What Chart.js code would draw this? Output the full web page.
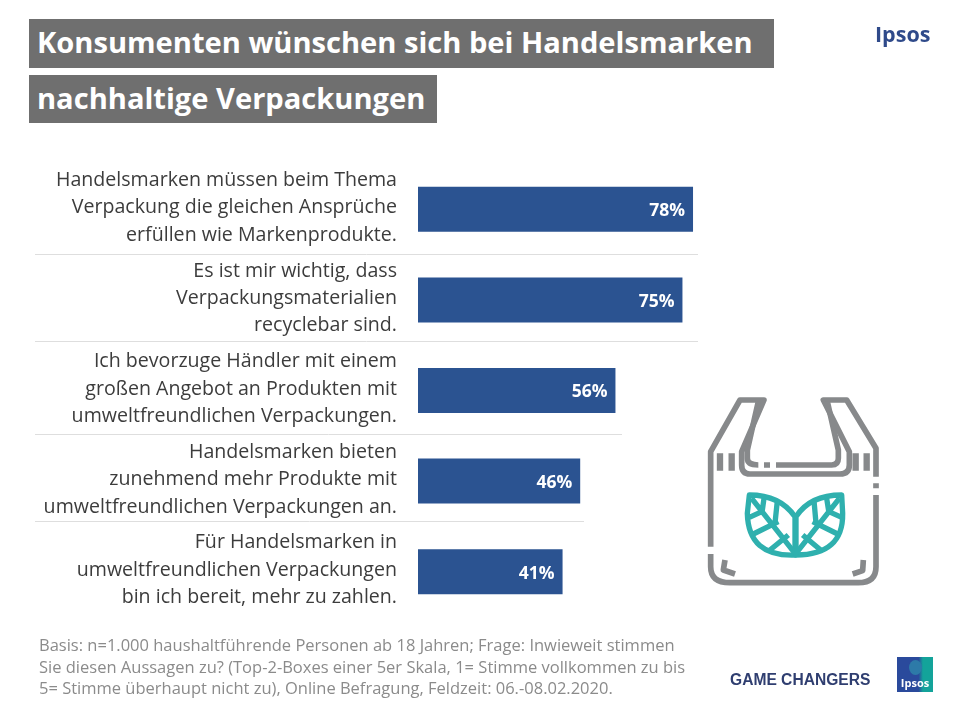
<!DOCTYPE html>
<html lang="de">
<head>
<meta charset="utf-8">
<title>Konsumenten wünschen sich bei Handelsmarken nachhaltige Verpackungen</title>
<script src="https://cdn.jsdelivr.net/npm/chart.js@4"></script>
<style>
  html, body { margin: 0; padding: 0; background: #fff; }
  #page { position: relative; width: 960px; height: 720px; overflow: hidden; font-family: "Open Sans", sans-serif; }
  #chart { position: absolute; left: 0; top: 0; }
  .title { position: absolute; left: 29px; background: #6f6f6f; color: #fff; font-weight: 700; font-size: 29.1px; line-height: 47px; padding-left: 8px; box-sizing: border-box; white-space: nowrap; }
  #note { position: absolute; left: 39px; top: 634px; font-size: 16.5px; line-height: 21.7px; color: #8b8b8b; white-space: nowrap; }
  #ipsos { position: absolute; left: 875px; top: 19px; font-size: 21.5px; font-weight: 700; color: #2f4a8a; }
  #game { position: absolute; left: 730px; top: 671px; font: bold 15.6px "Liberation Sans", sans-serif; color: #2f3e70; white-space: nowrap; }
  #logo { position: absolute; left: 897px; top: 657px; width: 36px; height: 35px; background: linear-gradient(90deg, #2a4a9c 60%, #13a39a 72%); color: #fff; font-size: 11px; font-weight: 700; text-align: center; line-height: 52px; }
  #drop { position: absolute; left: 12px; top: 3px; width: 13px; height: 15px; border-radius: 50%; background: #2d7aa8; }
  #logo span { position: relative; }
  #bag { position: absolute; left: 690px; top: 380px; }
</style>
</head>
<body>
<div id="page">
  <canvas id="chart" width="960" height="720"></canvas>
  <div class="title" style="top:19px;width:745px;height:49px">Konsumenten wünschen sich bei Handelsmarken</div>
  <div class="title" style="top:75px;width:408px;height:48px">nachhaltige Verpackungen</div>
  <div id="ipsos">Ipsos</div>
  <div id="note"></div>
  <div id="game">GAME CHANGERS</div>
  <div id="logo"><div id="drop"></div><span>Ipsos</span></div>
  <svg id="bag" width="200" height="220" viewBox="0 0 600 660" fill="none" stroke-linejoin="round">
    <g stroke="#87898b" stroke-width="17">
      <path d="M62 500V215L150 60H222L155 215V255Q155 282 180 282H450Q478 282 478 255V215L400 60H470L558 205V290"/>
      <path d="M558 310V325M558 345V560Q558 608 505 608H120Q62 608 62 560V522"/>
      <path d="M205 65L172 210V235Q172 255 205 255M222 255H240M258 255H425Q445 255 445 235V210L412 65"/>
      <path d="M90 220V272M125 220V272M497 220V272M530 220V272" stroke-width="19"/>
      <path d="M105 540L100 570L135 582M520 540L518 572L488 582"/>
    </g>
    <g stroke="#2fb0ae" stroke-width="16">
      <path d="M178 345Q270 345 315 410V525Q175 530 172 400Z"/>
      <path d="M455 345Q360 345 318 410V525Q460 525 458 400Z"/>
      <path d="M185 355L315 520M222 355L215 405M262 362L255 430M178 412L222 392M190 462L265 425M240 510L295 465"/>
      <path d="M448 355L318 520M410 355L418 405M372 362L378 430M455 412L410 392M443 462L368 425M392 510L338 465"/>
    </g>
  </svg>
</div>
<script>
const categories = [
  ['Handelsmarken müssen beim Thema', 'Verpackung die gleichen Ansprüche', 'erfüllen wie Markenprodukte.'],
  ['Es ist mir wichtig, dass', 'Verpackungsmaterialien', 'recyclebar sind.'],
  ['Ich bevorzuge Händler mit einem', 'großen Angebot an Produkten mit', 'umweltfreundlichen Verpackungen.'],
  ['Handelsmarken bieten', 'zunehmend mehr Produkte mit', 'umweltfreundlichen Verpackungen an.'],
  ['Für Handelsmarken in', 'umweltfreundlichen Verpackungen', 'bin ich bereit, mehr zu zahlen.']
];
const values = [78, 75, 56, 46, 41];
const noteLines = [
  'Basis: n=1.000 haushaltführende Personen ab 18 Jahren; Frage: Inwieweit stimmen',
  'Sie diesen Aussagen zu? (Top-2-Boxes einer 5er Skala, 1= Stimme vollkommen zu bis',
  '5= Stimme überhaupt nicht zu), Online Befragung, Feldzeit: 06.-08.02.2020.'
];

document.getElementById('note').innerHTML = noteLines.join('<br>');

// Row labels sit a little above the bar centre in the original
const liftLabels = {
  id: 'liftLabels',
  beforeDraw(chart) {
    chart.scales.y.getLabelItems().forEach(item => {
      item.options.translation[1] -= 1.5;
    });
  }
};

// Value labels inside the bar end, and the thin rules between the rows
const barDecor = {
  id: 'barDecor',
  afterDatasetsDraw(chart) {
    const ctx = chart.ctx;
    const bars = chart.getDatasetMeta(0).data;

    ctx.save();
    ctx.strokeStyle = '#dedede';
    ctx.lineWidth = 1;
    [[254, 698], [341, 698], [434, 622], [521, 584]].forEach(([y, right]) => {
      ctx.beginPath();
      ctx.moveTo(35, y + 0.5);
      ctx.lineTo(right, y + 0.5);
      ctx.stroke();
    });

    ctx.fillStyle = '#ffffff';
    ctx.font = '700 17.5px "Open Sans"';
    ctx.textAlign = 'right';
    ctx.textBaseline = 'middle';
    bars.forEach((bar, i) => {
      ctx.fillText(values[i] + '%', bar.x - 8, bar.y + 2);
    });
    ctx.restore();
  }
};

new Chart(document.getElementById('chart').getContext('2d'), {
  type: 'bar',
  data: {
    labels: categories,
    datasets: [{
      data: values,
      backgroundColor: '#2b5391',
      categoryPercentage: 1,
      barPercentage: 0.497
    }]
  },
  options: {
    indexAxis: 'y',
    responsive: false,
    animation: false,
    layout: { padding: { top: 164, bottom: 103, right: 189.4 } },
    plugins: { legend: { display: false }, tooltip: { enabled: false } },
    scales: {
      x: { min: 0, max: 100, display: false },
      y: {
        afterFit(scale) { scale.width = 418; },
        grid: { display: false, drawTicks: false },
        border: { display: false },
        ticks: {
          autoSkip: false,
          padding: 21,
          color: '#3c3c3c',
          font: { family: '"Open Sans"', size: 19.6, lineHeight: 1.4 }
        }
      }
    }
  },
  plugins: [liftLabels, barDecor]
});
</script>
</body>
</html>
